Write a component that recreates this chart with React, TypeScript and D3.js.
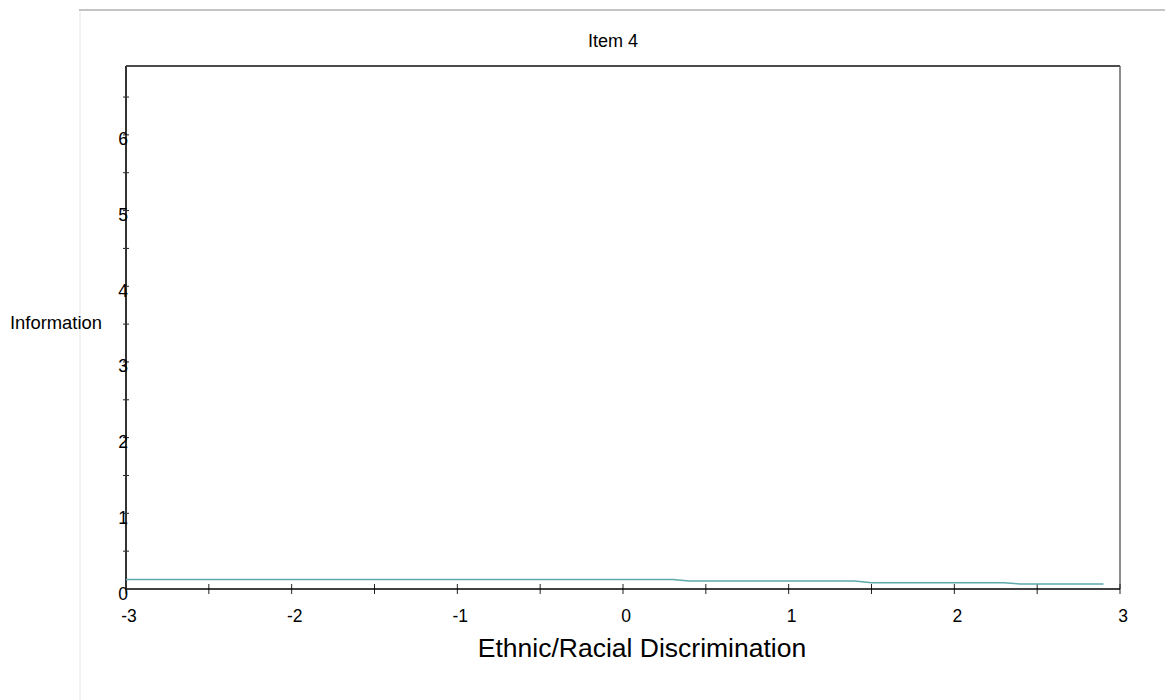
import React, { useEffect, useRef } from "react";
import * as d3 from "d3";

// information curve for item 4 (theta, information)
const thetaPoints = [-3, 0.3, 0.4, 1.4, 1.5, 2.3, 2.4, 2.9];
const infoValues = [0.125, 0.125, 0.106, 0.106, 0.083, 0.083, 0.066, 0.066];

const xTickLabels = [-3, -2, -1, 0, 1, 2, 3];
const yTickLabels = [0, 1, 2, 3, 4, 5, 6];

const chartTitle = "Item 4";
const xTitle = "Ethnic/Racial Discrimination";
const yTitle = "Information";

export default function App() {
  const node = useRef<SVGSVGElement | null>(null);

  useEffect(() => {
    const svg = d3.select(node.current);
    svg.selectAll("*").remove();

    const width = 1165,
      height = 700;
    const left = 126,
      right = 1120,
      top = 66,
      bottom = 589;

    const x = d3.scaleLinear().domain([-3, 3]).range([left, right]);
    const y = d3.scaleLinear().domain([0, 6.91]).range([bottom, top]);

    const font = "Arial, 'Liberation Sans', sans-serif";

    // page frame
    svg.append("line")
      .attr("x1", 79).attr("x2", width).attr("y1", 10).attr("y2", 10)
      .attr("stroke", "#c4c4c4").attr("stroke-width", 2);
    svg.append("line")
      .attr("x1", 80).attr("x2", 80).attr("y1", 11).attr("y2", height)
      .attr("stroke", "#e6e6e6").attr("stroke-width", 1);

    // plot box
    svg.append("line")
      .attr("x1", left).attr("x2", right).attr("y1", top).attr("y2", top)
      .attr("stroke", "#111").attr("stroke-width", 1.5);
    svg.append("line")
      .attr("x1", right).attr("x2", right).attr("y1", top).attr("y2", bottom)
      .attr("stroke", "#666").attr("stroke-width", 1.5);

    // x ticks every 0.5
    const g = svg.append("g");
    g.selectAll(".xt")
      .data(d3.range(-3, 3.01, 0.5))
      .enter().append("line")
      .attr("x1", (d) => x(d)).attr("x2", (d) => x(d))
      .attr("y1", bottom - 5).attr("y2", bottom + 5)
      .attr("stroke", "#222").attr("stroke-width", 1);

    // y ticks every 0.5
    g.selectAll(".yt")
      .data(d3.range(0.5, 6.6, 0.5))
      .enter().append("line")
      .attr("x1", left - 3).attr("x2", left + 3)
      .attr("y1", (d) => y(d)).attr("y2", (d) => y(d))
      .attr("stroke", "#222").attr("stroke-width", 1);

    // axes lines
    svg.append("line")
      .attr("x1", left).attr("x2", right).attr("y1", bottom).attr("y2", bottom)
      .attr("stroke", "#000").attr("stroke-width", 1.5);
    svg.append("line")
      .attr("x1", left).attr("x2", left).attr("y1", top).attr("y2", bottom)
      .attr("stroke", "#333").attr("stroke-width", 2);

    // info curve
    const line = d3.line<number>()
      .x((d, i) => x(thetaPoints[i]))
      .y((d) => y(d));
    svg.append("path")
      .attr("d", line(infoValues))
      .attr("fill", "none")
      .attr("stroke", "#5fa9ab")
      .attr("stroke-width", 1.5);

    // labels
    svg.selectAll(".xl")
      .data(xTickLabels)
      .enter().append("text")
      .attr("x", (d) => x(d) + 3)
      .attr("y", 621.5)
      .attr("text-anchor", "middle")
      .style("font-family", font)
      .style("font-size", "17.5px")
      .text((d) => d);

    svg.selectAll(".yl")
      .data(yTickLabels)
      .enter().append("text")
      .attr("x", 123)
      .attr("y", (d) => y(d) + 10.5)
      .attr("text-anchor", "middle")
      .style("font-family", font)
      .style("font-size", "17.5px")
      .text((d) => d);

    svg.append("text")
      .attr("x", 613).attr("y", 47)
      .attr("text-anchor", "middle")
      .style("font-family", font).style("font-size", "18px")
      .text(chartTitle);

    svg.append("text")
      .attr("x", 642).attr("y", 657)
      .attr("text-anchor", "middle")
      .style("font-family", font).style("font-size", "26.5px")
      .text(xTitle);

    svg.append("text")
      .attr("x", 10).attr("y", 329)
      .style("font-family", font).style("font-size", "18.4px")
      .text(yTitle);
  }, []);

  return (
    <svg
      ref={node}
      width={1165}
      height={700}
      style={{ position: "absolute", left: 0, top: 0, background: "#fff" }}
    />
  );
}
